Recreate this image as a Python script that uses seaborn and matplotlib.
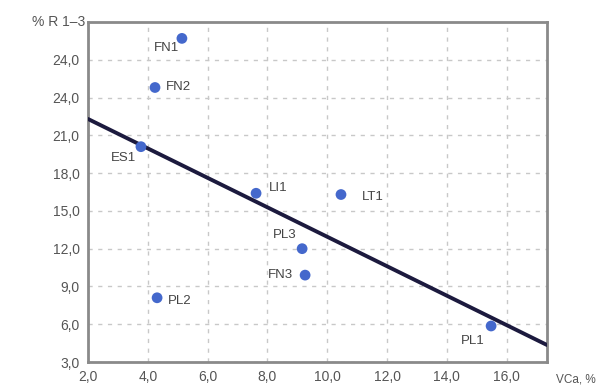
import matplotlib
matplotlib.use("Agg")
import matplotlib.pyplot as plt
import seaborn as sns
import pandas as pd

labels = ["FN1", "FN2", "ES1", "LI1", "LT1", "PL3", "FN3", "PL2", "PL1"]
vca = [5.14, 4.24, 3.77, 7.62, 10.46, 9.16, 9.26, 4.31, 15.48]
r13 = [28.7, 24.8, 20.1, 16.4, 16.3, 12.0, 9.9, 8.1, 5.86]
line_x = [2.0, 17.35]
line_y = [22.3, 4.35]
x_ticks = [2, 4, 6, 8, 10, 12, 14, 16]
x_ticklabels = ["2,0", "4,0", "6,0", "8,0", "10,0", "12,0", "14,0", "16,0"]
y_ticks = [3, 6, 9, 12, 15, 18, 21, 24, 27]
y_ticklabels = ["3,0", "6,0", "9,0", "12,0", "15,0", "18,0", "21,0", "24,0", "24,0"]

sns.set_theme(style="white")
plt.rcParams["font.family"] = ["Liberation Sans", "DejaVu Sans"]

df = pd.DataFrame({"VCa": vca, "R": r13, "label": labels})
fig = plt.figure(figsize=(6.0, 3.89), dpi=100)
ax = fig.add_axes([0.1467, 0.0694, 0.765, 0.874])

grey = "#8a8a8a"
txt = "#555555"
ax.set_xlim(2.0, 17.35)
ax.set_ylim(3.0, 30.0)
ax.set_xticks(x_ticks)
ax.set_xticklabels(x_ticklabels, color=txt, fontsize=10)
ax.set_yticks(y_ticks)
ax.set_yticklabels(y_ticklabels, color=txt, fontsize=10)
ax.grid(True, linestyle=(0, (3, 4)), color="#c8c8c8", linewidth=1.0)
ax.set_axisbelow(True)

sns.lineplot(x=line_x, y=line_y, ax=ax, color="#1c1a3e", linewidth=2.8, zorder=3)
sns.scatterplot(data=df, x="VCa", y="R", ax=ax, color="#4468cc", s=60,
                edgecolor="none", zorder=4)

offsets = {
    "FN1": (-20, -7), "FN2": (8, 0), "ES1": (-22, -8), "LI1": (9, 4),
    "LT1": (15, -2), "PL3": (-21, 10), "FN3": (-27, 0), "PL2": (8, -2),
    "PL1": (-22, -11),
}
for lab, x, y in zip(labels, vca, r13):
    dx, dy = offsets[lab]
    ax.annotate(lab, (x, y), xytext=(dx, dy), textcoords="offset points",
                fontsize=9.5, color="#444444", va="center", ha="left")

for s in ax.spines.values():
    s.set_color(grey)
    s.set_linewidth(2.0)
ax.tick_params(axis="both", direction="out", length=4, width=1.2, color=grey, pad=2)
ax.set_xlabel("")
ax.set_ylabel("")

fig.text(0.1467 - 0.005, 0.9434, "% R 1–3", ha="right", va="center",
         fontsize=10, color=txt)
fig.text(0.9117 + 0.015, 0.0694 - 0.045, "VCa, %", ha="left", va="center",
         fontsize=8.5, color=txt)

fig.savefig("out.png", dpi=100)
